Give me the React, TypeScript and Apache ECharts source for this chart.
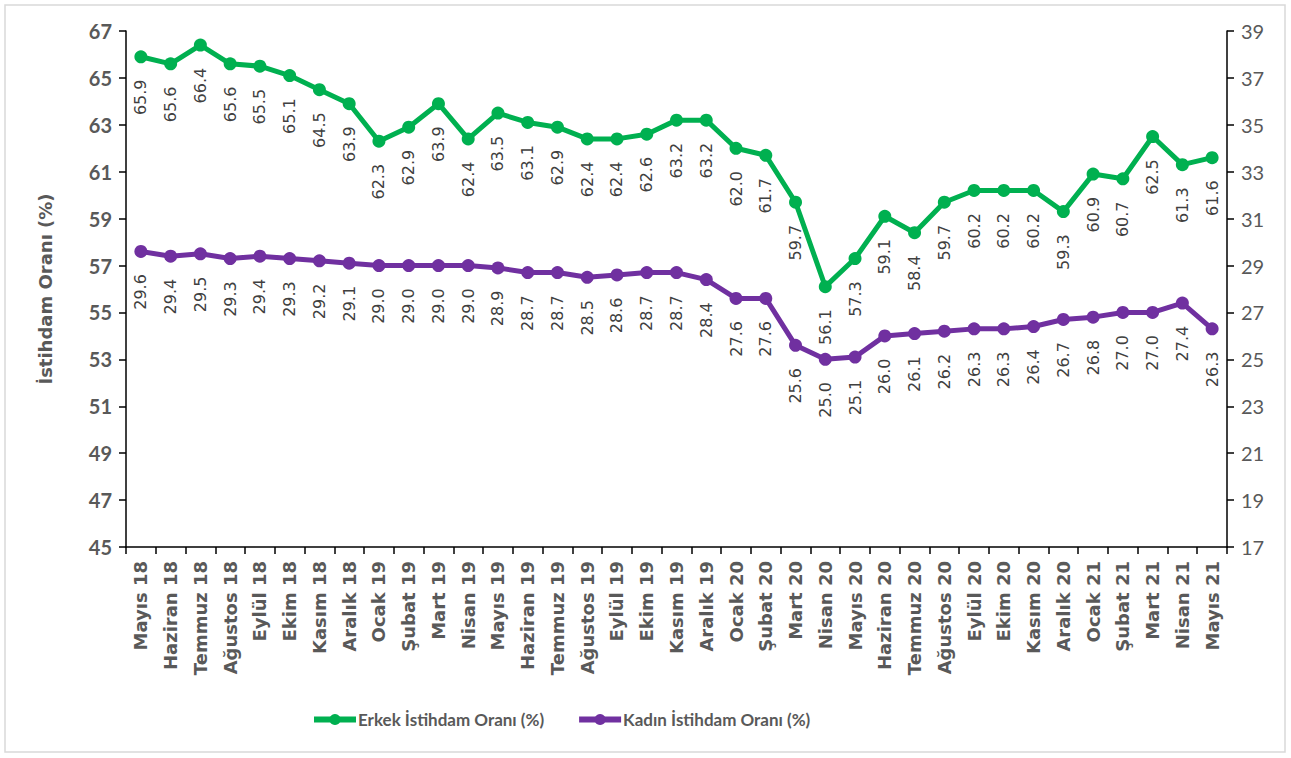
import React, { useEffect, useRef } from "react";
import * as echarts from "echarts";

const categories = [
  "Mayıs 18", "Haziran 18", "Temmuz 18", "Ağustos 18", "Eylül 18", "Ekim 18", "Kasım 18", "Aralık 18",
  "Ocak 19", "Şubat 19", "Mart 19", "Nisan 19", "Mayıs 19", "Haziran 19", "Temmuz 19", "Ağustos 19",
  "Eylül 19", "Ekim 19", "Kasım 19", "Aralık 19", "Ocak 20", "Şubat 20", "Mart 20", "Nisan 20",
  "Mayıs 20", "Haziran 20", "Temmuz 20", "Ağustos 20", "Eylül 20", "Ekim 20", "Kasım 20", "Aralık 20",
  "Ocak 21", "Şubat 21", "Mart 21", "Nisan 21", "Mayıs 21",
];

const erkek = [
  65.9, 65.6, 66.4, 65.6, 65.5, 65.1, 64.5, 63.9, 62.3, 62.9, 63.9, 62.4, 63.5, 63.1, 62.9, 62.4,
  62.4, 62.6, 63.2, 63.2, 62.0, 61.7, 59.7, 56.1, 57.3, 59.1, 58.4, 59.7, 60.2, 60.2, 60.2, 59.3,
  60.9, 60.7, 62.5, 61.3, 61.6,
];

const kadin = [
  29.6, 29.4, 29.5, 29.3, 29.4, 29.3, 29.2, 29.1, 29.0, 29.0, 29.0, 29.0, 28.9, 28.7, 28.7, 28.5,
  28.6, 28.7, 28.7, 28.4, 27.6, 27.6, 25.6, 25.0, 25.1, 26.0, 26.1, 26.2, 26.3, 26.3, 26.4, 26.7,
  26.8, 27.0, 27.0, 27.4, 26.3,
];

const seriesNames = ["Erkek İstihdam Oranı (%)", "Kadın İstihdam Oranı (%)"];
const leftAxis = { min: 45, max: 67, interval: 2 };
const rightAxis = { min: 17, max: 39, interval: 2 };

const FONT = "Lato, 'Open Sans', sans-serif";
const WIDE = "'DejaVu Sans', sans-serif";

export default function App() {
  const ref = useRef<HTMLDivElement>(null);
  useEffect(() => {
    if (!ref.current) return;
    const chart = echarts.init(ref.current, undefined, { renderer: "svg" });
    const dataLabel = {
      show: true,
      position: ["50%", 47],
      rotate: 90,
      align: "center",
      verticalAlign: "middle",
      color: "#404040",
      fontSize: 16,
      fontFamily: WIDE,
      formatter: (p: any) => Number(p.value).toFixed(1),
    };
    chart.setOption({
      animation: false,
      backgroundColor: "#fff",
      textStyle: { fontFamily: FONT },
      graphic: [
        {
          type: "rect",
          shape: { x: 5, y: 5, width: 1280, height: 747 },
          style: { fill: "none", stroke: "#d9d9d9", lineWidth: 1.5 },
          silent: true,
        },
      ],
      grid: { left: 126, right: 64, top: 31, bottom: 211, containLabel: false },
      legend: {
        top: 706,
        left: 306,
        itemWidth: 42,
        itemHeight: 14,
        itemGap: 32,
        lineStyle: { width: 6 },
        textStyle: { color: "#595959", fontSize: 17, fontWeight: "bold", fontFamily: FONT, padding: [0, 0, 0, -3] },
        data: seriesNames,
      },
      xAxis: {
        type: "category",
        data: categories,
        boundaryGap: true,
        axisLine: { lineStyle: { color: "#000", width: 1.5 } },
        axisTick: { show: true, length: 7, interval: 0, lineStyle: { color: "#000", width: 1.5 } },
        axisLabel: {
          interval: 0,
          rotate: 90,
          color: "#595959",
          fontSize: 18,
          fontWeight: "bold",
          fontFamily: WIDE,
          margin: 14,
        },
      },
      yAxis: [
        {
          type: "value",
          ...leftAxis,
          name: "İstihdam Oranı (%)",
          nameLocation: "middle",
          nameGap: 72,
          nameRotate: 90,
          nameTextStyle: { color: "#595959", fontSize: 18, fontWeight: "bold", fontFamily: WIDE },
          axisLine: { show: true, lineStyle: { color: "#000", width: 1.5 } },
          axisTick: { show: true, length: 7, lineStyle: { color: "#000", width: 1.5 } },
          splitLine: { show: false },
          axisLabel: { color: "#595959", fontSize: 20, fontWeight: "bold", fontFamily: FONT, margin: 14 },
        },
        {
          type: "value",
          ...rightAxis,
          position: "right",
          axisLine: { show: true, lineStyle: { color: "#000", width: 1.5 } },
          axisTick: { show: true, length: 7, lineStyle: { color: "#000", width: 1.5 } },
          splitLine: { show: false },
          axisLabel: { color: "#595959", fontSize: 20, fontFamily: FONT, margin: 14 },
        },
      ],
      series: [
        {
          name: seriesNames[0],
          type: "line",
          yAxisIndex: 0,
          data: erkek,
          symbol: "circle",
          symbolSize: 13,
          color: "#00B050",
          lineStyle: { width: 5, color: "#00B050" },
          itemStyle: { color: "#00B050" },
          label: dataLabel,
        },
        {
          name: seriesNames[1],
          type: "line",
          yAxisIndex: 1,
          data: kadin,
          symbol: "circle",
          symbolSize: 13,
          color: "#7030A0",
          lineStyle: { width: 5, color: "#7030A0" },
          itemStyle: { color: "#7030A0" },
          label: dataLabel,
        },
      ],
    });
    return () => chart.dispose();
  }, []);
  return (
    <div
      ref={ref}
      style={{ position: "fixed", left: 0, top: 0, width: 1291, height: 758 }}
    />
  );
}
